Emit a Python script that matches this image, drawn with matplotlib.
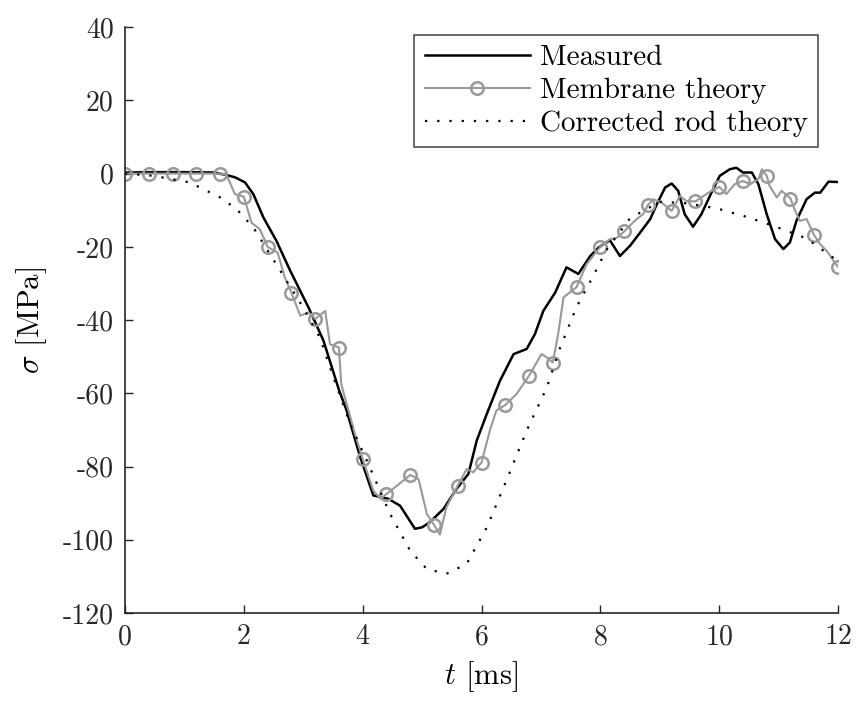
import numpy as np
import matplotlib
matplotlib.use('Agg')
import matplotlib.pyplot as plt
from matplotlib.ticker import FuncFormatter

plt.rcParams['font.family'] = 'serif'
plt.rcParams['font.serif'] = ['cmr10', 'DejaVu Serif']
plt.rcParams['mathtext.fontset'] = 'cm'
plt.rcParams['axes.unicode_minus'] = False
plt.rcParams['axes.formatter.use_mathtext'] = True

# Measured signal
t_meas = [0, 0.5, 1.0, 1.5, 1.71, 1.85, 2.02, 2.16, 2.33, 2.55, 2.78, 3.09, 3.34, 3.6,
          3.73, 3.96, 4.18, 4.43, 4.63, 4.88, 5.0, 5.13, 5.36, 5.58, 5.78, 5.92, 6.09,
          6.31, 6.54, 6.76, 6.9, 7.04, 7.24, 7.43, 7.63, 7.83, 7.97, 8.16, 8.33, 8.5,
          8.67, 8.84, 8.95, 9.09, 9.2, 9.31, 9.42, 9.56, 9.7, 9.87, 10.01, 10.18, 10.29,
          10.4, 10.55, 10.66, 10.8, 10.94, 11.08, 11.19, 11.3, 11.47, 11.61, 11.7, 11.84, 12.0]
s_meas = [0.3, 0.4, 0.4, 0.3, -0.4, -1.0, -2.4, -5.6, -12, -18.4, -26.5, -36.6, -45.6, -59,
          -64.7, -77.5, -87.9, -88.8, -90.7, -97, -96.6, -95.2, -91.6, -86.1, -82, -72.9, -65.6,
          -56.6, -49.3, -47.9, -43.8, -37.5, -32.5, -25.6, -27.4, -22.5, -20.2, -18.2, -22.5, -19.7,
          -16.1, -12.4, -8.4, -3.8, -2.7, -4.7, -11.1, -14.5, -11.1, -5.2, -0.6, 1.2, 1.6,
          0.3, 0.3, -2.9, -11.1, -17.9, -20.6, -18.8, -12.9, -7, -5.2, -5.2, -2.2, -2.3]

# Membrane theory
t_memb = [0, 0.4, 0.8, 1.2, 1.6, 1.71, 1.85, 2.0, 2.13, 2.27, 2.4, 2.57, 2.69, 2.8, 2.95,
          3.09, 3.2, 3.37, 3.45, 3.6, 3.64, 3.87, 4.0, 4.18, 4.3, 4.4, 4.58, 4.8, 4.94,
          5.08, 5.2, 5.3, 5.41, 5.6, 5.75, 5.86, 6.0, 6.14, 6.25, 6.4, 6.59, 6.8, 7.01,
          7.1, 7.2, 7.29, 7.38, 7.6, 7.77, 8.0, 8.16, 8.28, 8.4, 8.61, 8.72, 8.8, 8.89,
          9.03, 9.2, 9.34, 9.45, 9.6, 9.7, 9.82, 10.0, 10.12, 10.26, 10.4, 10.52, 10.66,
          10.72, 10.8, 10.85, 10.97, 11.05, 11.2, 11.28, 11.36, 11.47, 11.6, 11.7, 11.81, 12.0]
s_memb = [0, 0, 0, 0, 0, -0.35, -5.6, -6.3, -13.4, -15.2, -20, -21.6, -28.4, -32.5, -38.8,
          -37.9, -39.7, -37.5, -46.6, -47.5, -57.5, -71.1, -77.9, -86.6, -88.8, -87.5, -85.2, -82.3, -83.4,
          -92.9, -95.9, -98.6, -91.1, -85.2, -80.7, -81.6, -78.9, -70.2, -64.7, -63.2, -60.2, -55.2, -49.3,
          -50.2, -51.6, -43.8, -33.8, -31, -24.7, -20, -17.9, -17.5, -15.8, -12.4, -11.1, -8.6, -7,
          -7.9, -10.2, -6.1, -7.5, -7.6, -6.5, -5.2, -3.6, -5.6, -2.9, -2.0, -2.9, -1.5,
          1.2, -0.6, -3.4, -6.5, -4.7, -6.8, -10.2, -12.9, -12.4, -16.9, -19.3, -21.1, -25.5]

# Corrected rod theory
t_rod = [0, 0.48, 1.09, 1.6, 1.88, 2.16, 2.44, 2.72, 3.0, 3.28, 3.51, 3.79, 4.12, 4.46,
         4.8, 5.08, 5.41, 5.75, 6.09, 6.42, 6.76, 7.1, 7.32, 7.6, 7.86, 8.1, 8.5, 9.0,
         9.45, 9.96, 10.46, 10.97, 11.47, 11.92, 12.0]
s_rod = [0, -0.6, -2.4, -6.5, -9.7, -14.7, -22, -29.3, -36.6, -44.8, -55.7, -68.4, -80.2, -92.9,
         -103, -108, -109.3, -106.6, -96.6, -83.8, -70.2, -58.4, -47.7, -36.4, -28.6, -20.9, -12.2, -7.7,
         -8.1, -9.5, -11.8, -14.6, -17.7, -23, -24.5]

x_ticks = [0, 2, 4, 6, 8, 10, 12]
y_ticks = [-120, -100, -80, -60, -40, -20, 0, 20, 40]

fig = plt.figure(figsize=(8.56, 7.05), dpi=100)
ax = fig.add_axes([0.146, 0.1305, 0.833, 0.831])

gray = '#999999'
t_memb_arr = np.array(t_memb)
marks = [i for i, v in enumerate(t_memb_arr) if abs(v / 0.4 - round(v / 0.4)) < 1e-6]

ax.plot(t_meas, s_meas, color='black', lw=1.8, label='Measured')
ax.plot(t_memb, s_memb, color=gray, lw=1.5, marker='o', markevery=marks, ms=9,
        mfc='none', mec=gray, mew=1.8, label='Membrane theory')
ax.plot(t_rod, s_rod, color='black', lw=1.6, linestyle=(0, (1, 4.5)), label='Corrected rod theory')

ax.set_xlim(0, 12)
ax.set_ylim(-120, 40)
ax.set_xticks(x_ticks)
ax.set_yticks(y_ticks)
fmt = FuncFormatter(lambda v, p: '%d' % v)
ax.xaxis.set_major_formatter(fmt)
ax.yaxis.set_major_formatter(fmt)
ax.tick_params(direction='in', length=6, width=1, labelsize=20, colors='#262626', pad=8)
for side in ['top', 'right']:
    ax.spines[side].set_visible(False)
for side in ['left', 'bottom']:
    ax.spines[side].set_color('#262626')
    ax.spines[side].set_linewidth(1.2)

ax.set_xlabel(r'$t$ [ms]', fontsize=22, labelpad=6)
ax.set_ylabel(r'$\sigma$ [MPa]', fontsize=22, labelpad=10)

leg = ax.legend(loc='upper right', bbox_to_anchor=(0.972, 0.987), fontsize=21, frameon=True,
                fancybox=False, edgecolor='#262626', handlelength=3.6, handletextpad=0.35,
                borderpad=0.35, labelspacing=0.22, borderaxespad=0)
leg.get_frame().set_linewidth(1.2)

fig.savefig('out.png', dpi=100)
